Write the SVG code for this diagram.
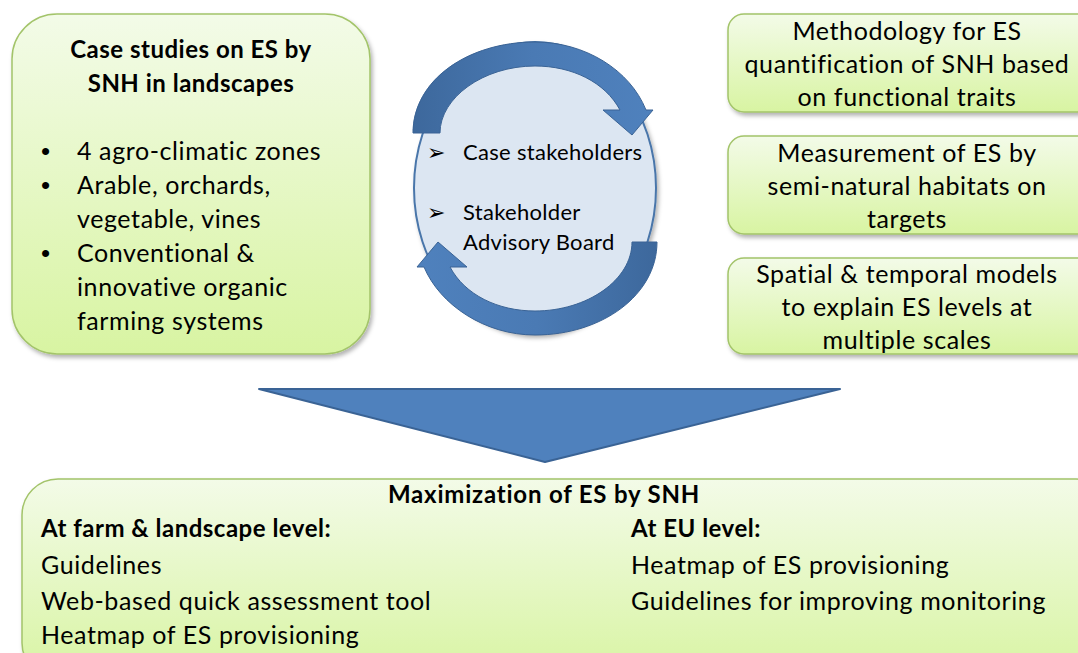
<svg xmlns="http://www.w3.org/2000/svg" width="1078" height="653" viewBox="0 0 1078 653">
<defs>
  <linearGradient id="gGreen" x1="0" y1="0" x2="0" y2="1">
    <stop offset="0" stop-color="#f3fbe8"/>
    <stop offset="1" stop-color="#d8f4a2"/>
  </linearGradient>
  <linearGradient id="gArrowTop" x1="0" y1="0" x2="1" y2="0">
    <stop offset="0" stop-color="#3d689c"/>
    <stop offset="0.5" stop-color="#4a7ab4"/>
    <stop offset="1" stop-color="#4f81bd"/>
  </linearGradient>
  <linearGradient id="gArrowBot" x1="1" y1="0" x2="0" y2="0">
    <stop offset="0" stop-color="#3d689c"/>
    <stop offset="0.5" stop-color="#4a7ab4"/>
    <stop offset="1" stop-color="#4f81bd"/>
  </linearGradient>
  <filter id="shadow" x="-5%" y="-5%" width="115%" height="115%">
    <feDropShadow dx="2" dy="3" stdDeviation="2" flood-color="#000" flood-opacity="0.3"/>
  </filter>
</defs>
<style>
  .box { fill: url(#gGreen); stroke: #a3c46a; stroke-width: 1.5; filter: url(#shadow); }
  .t { font-family: Lato, "Liberation Sans", sans-serif; font-size: 25px; letter-spacing: 0.6px; fill: #000; }
  .tc { text-anchor: middle; }
  .b { font-weight: bold; font-size: 24px; letter-spacing: 0.5px; }
  .bu { font-family: "Liberation Sans", sans-serif; font-size: 26px; fill: #000; }
  .st { font-family: Lato, "Liberation Sans", sans-serif; font-size: 22px; letter-spacing: 0.3px; fill: #000; }
  .ar { font-family: "DejaVu Sans", sans-serif; font-size: 22px; fill: #000; }
  .arr { stroke: #3a6395; stroke-width: 1; }
</style>

<g id="case-studies">
  <rect class="box" x="12" y="14" width="358" height="340" rx="45" ry="45"/>
  <text class="t b tc" x="191" y="58">Case studies on ES by</text>
  <text class="t b tc" x="191" y="92">SNH in landscapes</text>
  <text class="bu" x="41" y="160">•</text>
  <text class="t" x="77" y="160">4 agro-climatic zones</text>
  <text class="bu" x="41" y="194">•</text>
  <text class="t" x="77" y="194">Arable, orchards,</text>
  <text class="t" x="77" y="228">vegetable, vines</text>
  <text class="bu" x="41" y="262">•</text>
  <text class="t" x="77" y="262">Conventional &amp;</text>
  <text class="t" x="77" y="296">innovative  organic</text>
  <text class="t" x="77" y="330">farming systems</text>
</g>

<g id="stakeholders">
  <ellipse cx="535" cy="188" rx="121" ry="146" fill="#dce6f2" stroke="#4a76aa" stroke-width="2" filter="url(#shadow)"/>
  <path class="arr" fill="url(#gArrowTop)" d="M413,133 C413,80 468,42 535,42 C585,42 630,70 646,110 L653,110 L632,135 L603,110 L620,110 C605,82 572,66 535,66 C483,66 440,98 440,133 Z"/>
  <path class="arr" fill="url(#gArrowBot)" d="M657,242 C657,295 602,335 535,335 C485,335 440,305 424,267 L417,267 L438,242 L467,267 L450,267 C465,295 498,311 535,311 C587,311 632,280 632,242 Z"/>
  <text class="ar" x="427" y="160">➢</text>
  <text class="st" x="463" y="160">Case stakeholders</text>
  <text class="ar" x="427" y="220">➢</text>
  <text class="st" x="463" y="220">Stakeholder</text>
  <text class="st" x="463" y="250">Advisory Board</text>
</g>

<g id="methodology">
  <rect class="box" x="728" y="14" width="370" height="98" rx="16" ry="16"/>
  <text class="t tc" x="907" y="40">Methodology for ES</text>
  <text class="t tc" x="907" y="73">quantification of SNH based</text>
  <text class="t tc" x="907" y="106">on functional traits</text>
</g>

<g id="measurement">
  <rect class="box" x="728" y="136" width="370" height="98" rx="16" ry="16"/>
  <text class="t tc" x="907" y="162">Measurement of ES by</text>
  <text class="t tc" x="907" y="195">semi-natural habitats on</text>
  <text class="t tc" x="907" y="228">targets</text>
</g>

<g id="models">
  <rect class="box" x="728" y="258" width="370" height="96" rx="16" ry="16"/>
  <text class="t tc" x="907" y="283">Spatial &amp; temporal models</text>
  <text class="t tc" x="907" y="316">to explain ES levels at</text>
  <text class="t tc" x="907" y="349">multiple scales</text>
</g>

<g id="connectors">
  <path d="M259,389 L840,389 L545,462 Z" fill="#4f81bd" stroke="#3a6395" stroke-width="2" stroke-linejoin="round"/>
</g>

<g id="maximization">
  <rect class="box" x="22" y="479" width="1090" height="200" rx="36" ry="36"/>
  <text class="t b tc" x="544" y="503" style="letter-spacing:0.8px">Maximization of ES by SNH</text>
  <text class="t b" x="41" y="537">At farm &amp; landscape level:</text>
  <text class="t" x="41" y="574">Guidelines</text>
  <text class="t" x="41" y="610">Web-based quick assessment tool</text>
  <text class="t" x="41" y="644">Heatmap of ES provisioning</text>
  <text class="t b" x="631" y="537">At EU level:</text>
  <text class="t" x="631" y="574">Heatmap of ES provisioning</text>
  <text class="t" x="631" y="610">Guidelines for improving monitoring</text>
</g>
</svg>
